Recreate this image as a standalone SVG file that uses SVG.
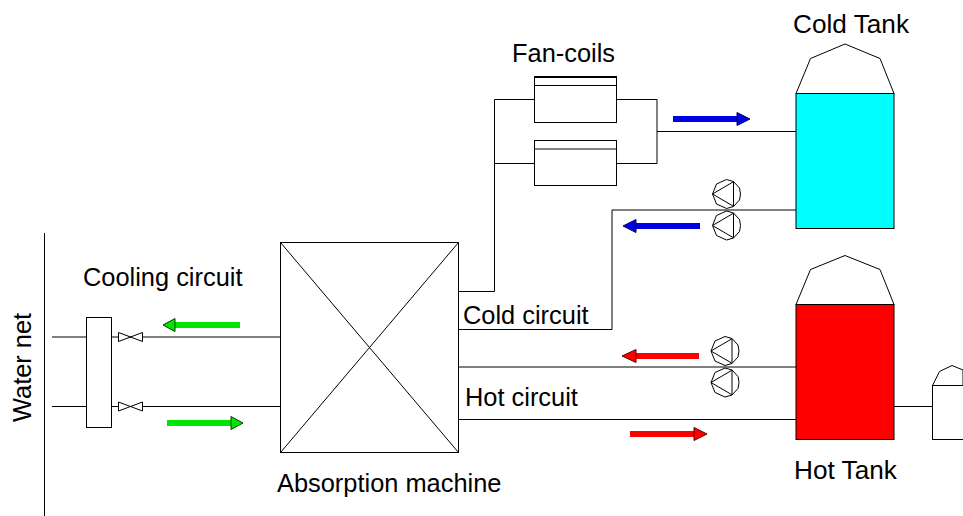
<svg xmlns="http://www.w3.org/2000/svg" width="963" height="516" viewBox="0 0 963 516">
<defs>
<style>
.l{fill:none;stroke:#000;stroke-width:1}
.n{fill:#fff;stroke:#000;stroke-width:1}
.b{fill:#0000e6}
.r{fill:#f00}
.g{fill:#00e600}
.bh{fill:#0000e6;stroke:#000060;stroke-width:1}
.rh{fill:#f00;stroke:#600000;stroke-width:1}
.gh{fill:#00e600;stroke:#004000;stroke-width:1}
text{font-family:"Liberation Sans",Arial,sans-serif;font-size:25.4px;fill:#000}
.t{font-size:26.2px}
</style>
<g id="pump"><polygon class="n" points="-14,0 -10,-10 0,-14.500 7,-12.500 13,-6 14,0 13,6 7,12.500 0,14.500 -10,10"/><polygon class="n" points="-14,0 7,-12.300 7,12.300"/></g>
<g id="valve"><polygon class="n" points="0,-4.500 12,0 0,4.500"/><polygon class="n" points="24,-4.500 12,0 24,4.500"/></g>
</defs>
<rect width="963" height="516" fill="#fff"/>
<g id="connectors">
<path class="l" d="M44.500 233V516"/>
<path class="l" d="M52 337H280M52 406.500H280"/>
<path class="l" d="M459 291.500H494.500V99.500H534M494.500 163.500H534"/>
<path class="l" d="M617 99.500H657V163.500H617M657 131.500H796"/>
<path class="l" d="M459 329.500H612V210H796"/>
<path class="l" d="M459 367H796M459 419.500H796M894 406.500H933"/>
</g>
<g id="arrows">
<g id="arrow-cold-out"><rect class="b" x="673" y="116" width="65" height="6"/><polygon class="bh" points="737,112.500 750,119 737,125.500"/></g>
<g id="arrow-cold-in"><rect class="b" x="635" y="223" width="65" height="6"/><polygon class="bh" points="636,219.500 623,226 636,232.500"/></g>
<g id="arrow-hot-in"><rect class="r" x="635" y="353" width="64" height="6"/><polygon class="rh" points="636,349.500 622,356 636,362.500"/></g>
<g id="arrow-hot-out"><rect class="r" x="630" y="431" width="65" height="6"/><polygon class="rh" points="694,427.500 707,434 694,440.500"/></g>
<g id="arrow-cool-in"><rect class="g" x="175" y="322" width="65" height="6"/><polygon class="gh" points="175,318.500 163,325 175,331.500"/></g>
<g id="arrow-cool-out"><rect class="g" x="167" y="420" width="65" height="6"/><polygon class="gh" points="231,416.500 243,423 231,429.500"/></g>
</g>
<g id="water-net"><text transform="translate(31,422) rotate(-90)">Water net</text></g>
<g id="heat-exchanger"><rect class="n" x="86.500" y="317.500" width="25" height="110"/></g>
<g id="valve-1"><use href="#valve" x="118.500" y="337"/></g>
<g id="valve-2"><use href="#valve" x="118.500" y="406.500"/></g>
<g id="cooling-label"><text x="83" y="286">Cooling circuit</text></g>
<g id="absorption-machine">
<rect class="n" x="280.500" y="242.500" width="178" height="210"/>
<path class="l" d="M280.500 242.500L458.500 452.500M458.500 242.500L280.500 452.500"/>
<text x="277" y="492">Absorption machine</text>
</g>
<g id="cold-circuit-label"><text x="463" y="324">Cold circuit</text></g>
<g id="hot-circuit-label"><text x="465" y="406">Hot circuit</text></g>
<g id="fan-coil-1"><rect class="n" x="534.500" y="77.500" width="82" height="45"/><path d="M534 77H617" stroke="#000" stroke-width="2"/><path class="l" d="M534.500 85.500H616.500"/></g>
<g id="fan-coil-2"><rect class="n" x="534.500" y="140.500" width="82" height="45"/><path class="l" d="M534.500 149H616.500"/></g>
<g id="fan-coils-label"><text x="512" y="62">Fan-coils</text></g>
<g id="pump-1"><use href="#pump" x="726.500" y="194"/></g>
<g id="pump-2"><use href="#pump" x="726.500" y="225.500"/></g>
<g id="pump-3"><use href="#pump" x="725" y="351"/></g>
<g id="pump-4"><use href="#pump" x="725" y="382.500"/></g>
<g id="cold-tank">
<polygon class="n" points="796,93.500 810.500,58.500 845,44 880,58.500 894,93.500"/>
<rect x="796" y="93.500" width="98" height="135" fill="#0ff" stroke="#000"/>
<text class="t" x="793" y="33">Cold Tank</text>
</g>
<g id="hot-tank">
<polygon class="n" points="796,304.500 810.500,269.500 845,255.500 880,269.500 894,304.500"/>
<rect x="796" y="304.500" width="98" height="135" fill="#f00" stroke="#000"/>
<text class="t" x="794" y="479">Hot Tank</text>
</g>
<g id="small-tank">
<polygon class="n" points="932.500,385.500 939.500,371.500 952,365.500 963,370 963,385.500"/>
<rect class="n" x="932.500" y="385.500" width="40" height="54"/>
</g>
</svg>
